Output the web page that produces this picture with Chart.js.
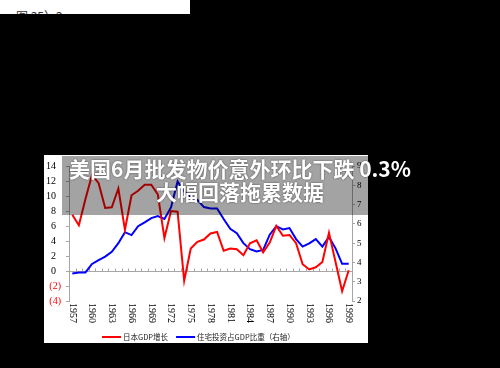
<!DOCTYPE html>
<html><head><meta charset="utf-8">
<script src="https://cdn.jsdelivr.net/npm/chart.js@4.4.1/dist/chart.umd.min.js"></script>
<style>
html,body{margin:0;padding:0;background:#000;width:500px;height:368px;overflow:hidden;}
#fig{position:absolute;left:0;top:0;width:190px;height:14px;background:#fff;overflow:hidden;}
#fig span{position:absolute;left:16px;top:7px;font:12px "Noto Sans CJK SC",serif;color:#333;white-space:pre;}
#wrap{position:absolute;left:44px;top:155px;width:324px;height:188px;background:#fff;}
#band{position:absolute;left:62px;top:156px;width:306px;height:59px;background:rgba(0,0,0,0.36);}
#title{position:absolute;left:0;top:157px;width:480px;text-align:center;color:#fff;font:bold 21px/23px "Noto Sans CJK SC",sans-serif;white-space:pre;text-shadow:0 0 2px rgba(0,0,0,0.6);}
</style></head>
<body>
<div id="fig"><span>图 35）2</span></div>
<div id="wrap"><canvas id="c" width="324" height="188"></canvas></div>
<div id="band"></div>
<div id="title">美国6月批发物价意外环比下跌 0.3%
大幅回落拖累数据</div>
<script>
const years = ['1957','1958','1959','1960','1961','1962','1963','1964','1965','1966','1967','1968','1969','1970','1971','1972','1973','1974','1975','1976','1977','1978','1979','1980','1981','1982','1983','1984','1985','1986','1987','1988','1989','1990','1991','1992','1993','1994','1995','1996','1997','1998','1999'];
const gdpGrowth = [7.5,6.1,9.6,12.8,11.7,8.4,8.5,11.0,5.5,10.1,10.7,11.5,11.5,10.2,4.4,8.0,7.9,-1.3,3.0,3.9,4.2,5.0,5.2,2.7,3.0,2.9,2.1,3.7,4.1,2.5,3.8,6.0,4.7,4.8,3.7,0.9,0.2,0.5,1.2,5.1,1.2,-2.7,0.1];
const housingShare = [3.43,3.48,3.48,3.92,4.12,4.30,4.55,5.00,5.57,5.42,5.88,6.08,6.30,6.40,6.25,6.85,8.20,7.67,7.40,7.25,6.87,6.80,6.80,6.25,5.74,5.52,5.00,4.69,4.57,4.65,5.44,5.88,5.71,5.78,5.21,4.82,4.99,5.21,4.82,5.32,4.73,3.93,3.93];
const seriesNames = ['日本GDP增长','住宅投资占GDP比重（右轴）'];
const leftTicks = {min:-4, max:14, step:2};
const rightTicks = {min:2, max:9, step:1};

const decor = {
  id:'decor',
  beforeDatasetsDraw(chart){
    const {ctx, chartArea:a, scales:{x, y}} = chart;
    const y0 = Math.round(y.getPixelForValue(0)) + 0.5;
    const step = x.getPixelForValue(1) - x.getPixelForValue(0);
    ctx.save();
    ctx.strokeStyle = '#a6a6a6'; ctx.lineWidth = 1;
    ctx.beginPath();
    ctx.moveTo(a.left, y0); ctx.lineTo(a.right, y0);
    for (let i = 0; i <= years.length; i++) {
      const px = Math.round(x.getPixelForValue(i) - step/2) + 0.5;
      ctx.moveTo(px, y0); ctx.lineTo(px, y0 - 3);
    }
    ctx.stroke();
    ctx.restore();
  },
  afterDraw(chart){
    const {ctx, chartArea:a, scales:{x}} = chart;
    ctx.save();
    ctx.font = '10px "Liberation Serif", serif';
    ctx.fillStyle = '#000';
    ctx.textAlign = 'left'; ctx.textBaseline = 'middle';
    years.forEach((yr, i) => {
      if (i % 3) return;
      ctx.save();
      ctx.translate(x.getPixelForValue(i), a.bottom + 2);
      ctx.rotate(Math.PI/2);
      ctx.fillText(yr, 0, 0);
      ctx.restore();
    });
    // legend
    ctx.font = '7.5px "Noto Sans CJK SC", sans-serif';
    ctx.fillStyle = '#222';
    let lx = 58; const ly = 182;
    chart.data.datasets.forEach((d) => {
      ctx.strokeStyle = d.borderColor; ctx.lineWidth = 2;
      ctx.beginPath(); ctx.moveTo(lx, ly); ctx.lineTo(lx + 19, ly); ctx.stroke();
      lx += 21;
      ctx.fillText(d.label, lx, ly);
      lx += ctx.measureText(d.label).width + 8;
    });
    ctx.restore();
  }
};

new Chart(document.getElementById('c'), {
  type:'line',
  data:{
    labels: years,
    datasets:[
      {label: seriesNames[0], data: gdpGrowth, yAxisID:'y', borderColor:'#ff0000', borderWidth:2, pointRadius:0, tension:0, fill:false},
      {label: seriesNames[1], data: housingShare, yAxisID:'y1', borderColor:'#0000ff', borderWidth:2, pointRadius:0, tension:0, fill:false}
    ]
  },
  options:{
    responsive:false, animation:false, devicePixelRatio:1,
    layout:{padding:{top:7, left:0, right:0, bottom:0}},
    plugins:{legend:{display:false}, tooltip:{enabled:false}},
    scales:{
      x:{
        offset:true,
        ticks:{display:false},
        grid:{display:false},
        border:{display:false},
        afterFit(s){ s.height = 42; }
      },
      y:{
        position:'left', min:leftTicks.min, max:leftTicks.max,
        ticks:{stepSize:leftTicks.step, padding:5,
          font:{family:'"Liberation Serif", serif', size:10},
          color:(c)=> c.tick.value < 0 ? '#ff0000' : '#000',
          callback:(v)=> v < 0 ? '(' + (-v) + ')' : v + '\u2002'},
        grid:{drawOnChartArea:false, tickLength:3, color:'#a6a6a6'},
        border:{color:'#a6a6a6'},
        afterFit(s){ s.width = 25; }
      },
      y1:{
        position:'right', min:rightTicks.min, max:rightTicks.max,
        ticks:{stepSize:rightTicks.step, padding:2,
          font:{family:'"Liberation Serif", serif', size:9}, color:'#000'},
        grid:{drawOnChartArea:false, tickLength:3, color:'#a6a6a6'},
        border:{color:'#a6a6a6'},
        afterFit(s){ s.width = 16; }
      }
    }
  },
  plugins:[decor]
});
</script>
</body></html>
